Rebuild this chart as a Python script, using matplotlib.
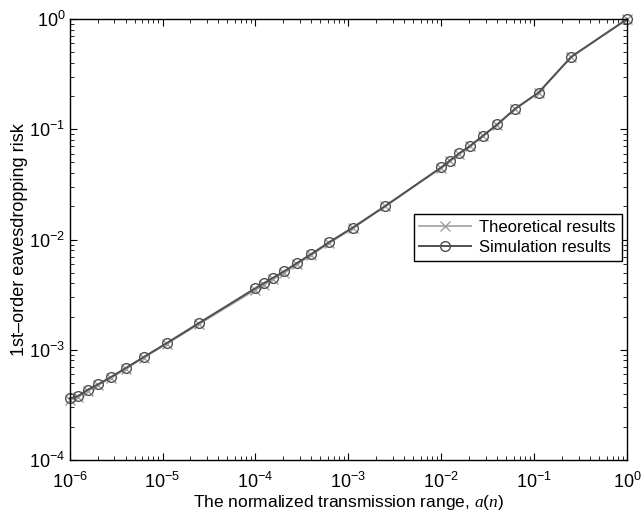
import matplotlib
matplotlib.use('Agg')
import matplotlib.pyplot as plt

plt.rcParams['font.family'] = ['Liberation Sans', 'DejaVu Sans']
plt.rcParams['mathtext.fontset'] = 'custom'
plt.rcParams['mathtext.rm'] = 'Liberation Sans'
plt.rcParams['mathtext.it'] = 'Liberation Serif:italic'

# normalized transmission range a(n)
a_n = [1e-6, 1.23e-6, 1.56e-6, 2.04e-6, 2.78e-6, 4e-6, 6.25e-6, 1.11e-5, 2.5e-5,
       1e-4, 1.23e-4, 1.56e-4, 2.04e-4, 2.78e-4, 4e-4, 6.25e-4, 1.11e-3, 2.5e-3,
       1e-2, 1.23e-2, 1.56e-2, 2.04e-2, 2.78e-2, 4e-2, 6.25e-2, 0.111, 0.25, 1.0]

# 1st-order eavesdropping risk
theory = [3.50e-4, 3.72e-4, 4.26e-4, 4.80e-4, 5.55e-4, 6.70e-4, 8.45e-4, 1.13e-3, 1.72e-3,
          3.50e-3, 3.90e-3, 4.40e-3, 5.02e-3, 5.95e-3, 7.25e-3, 9.30e-3, 1.26e-2, 2.00e-2,
          4.48e-2, 5.15e-2, 6.02e-2, 7.02e-2, 8.65e-2, 0.110, 0.153, 0.214, 0.452, 1.0]
simulation = [3.62e-4, 3.80e-4, 4.33e-4, 4.88e-4, 5.65e-4, 6.81e-4, 8.57e-4, 1.15e-3, 1.76e-3,
              3.62e-3, 4.02e-3, 4.52e-3, 5.16e-3, 6.10e-3, 7.40e-3, 9.50e-3, 1.28e-2, 2.02e-2,
              4.52e-2, 5.19e-2, 6.06e-2, 7.06e-2, 8.70e-2, 0.111, 0.154, 0.215, 0.455, 1.0]

fig = plt.figure(figsize=(6.44, 5.14), dpi=100)
ax = fig.add_axes([0.108, 0.105, 0.866, 0.858])

ax.loglog(a_n, theory, color='#a0a0a0', lw=1.2, marker='x', ms=6.5, mew=1.0,
          label='Theoretical results', clip_on=False)
ax.loglog(a_n, simulation, color='#505050', lw=1.4, marker='o', ms=7, mew=1.0,
          mfc='none', label='Simulation results', clip_on=False)

ax.set_xlim(1e-6, 1)
ax.set_ylim(1e-4, 1)
ax.tick_params(which='both', direction='in', top=True, right=True, labelsize=13)
ax.tick_params(which='major', length=5)
ax.tick_params(which='minor', length=3)
ax.tick_params(axis='x', which='major', pad=8.5)
ax.tick_params(axis='y', which='major', pad=3)
for s in ax.spines.values():
    s.set_linewidth(1.0)

ax.set_xlabel('The normalized transmission range, $a(n)$', fontsize=12.5, labelpad=1)
ax.set_ylabel('1st\u2013order eavesdropping risk', fontsize=13, labelpad=1)

leg = ax.legend(loc='upper right', bbox_to_anchor=(0.99, 0.557), fontsize=12,
                frameon=True, fancybox=False, edgecolor='black', framealpha=1,
                borderpad=0.35, labelspacing=0.3, handlelength=3.1,
                handletextpad=0.5, borderaxespad=0)
leg.get_frame().set_linewidth(1.0)

fig.savefig('out.png', dpi=100)
